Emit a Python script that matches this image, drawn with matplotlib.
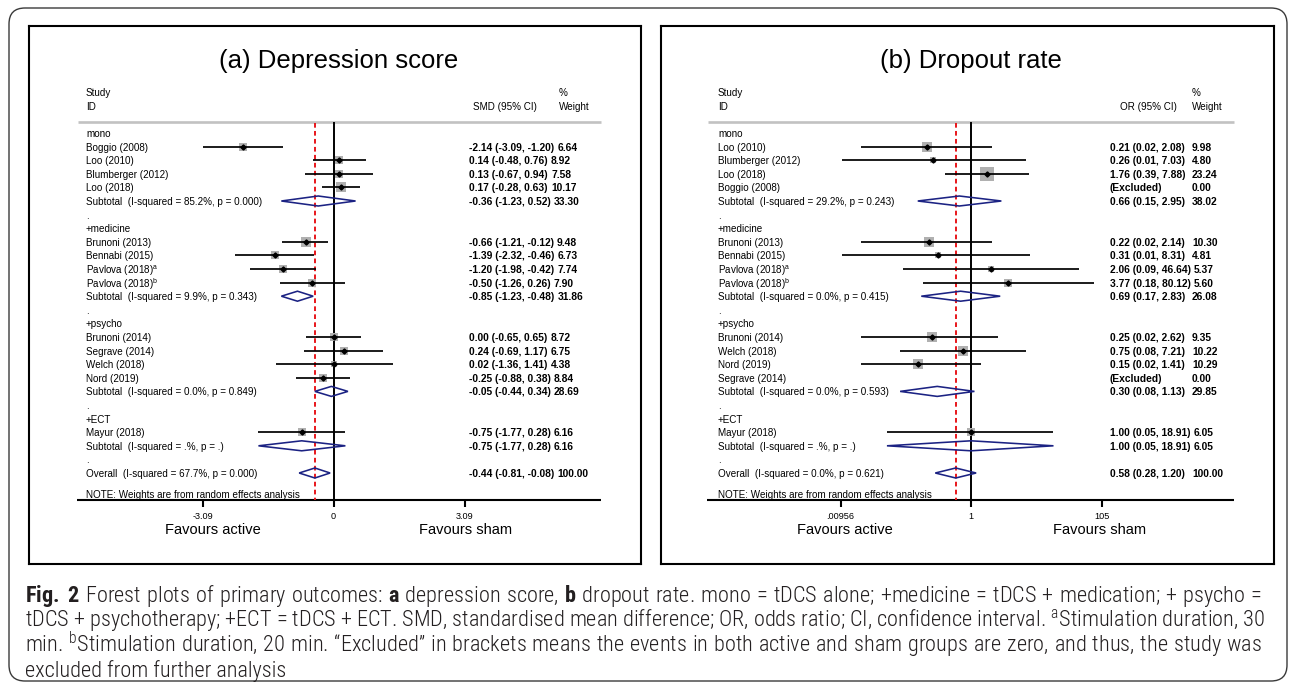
import matplotlib
matplotlib.use("Agg")
import matplotlib.pyplot as plt
from matplotlib import font_manager, transforms
from matplotlib.patches import FancyBboxPatch, Polygon
from matplotlib.ticker import NullLocator

# ---------------- data: (a) Depression score (SMD) ----------------
a_labels = ["mono", "Boggio (2008)", "Loo (2010)", "Blumberger (2012)", "Loo (2018)",
            "Subtotal  (I-squared = 85.2%, p = 0.000)", ".",
            "+medicine", "Brunoni (2013)", "Bennabi (2015)",
            "Pavlova (2018)$^{\\mathregular{a}}$", "Pavlova (2018)$^{\\mathregular{b}}$",
            "Subtotal  (I-squared = 9.9%, p = 0.343)", ".",
            "+psycho", "Brunoni (2014)", "Segrave (2014)", "Welch (2018)", "Nord (2019)",
            "Subtotal  (I-squared = 0.0%, p = 0.849)", ".",
            "+ECT", "Mayur (2018)", "Subtotal  (I-squared = .%, p = .)", ".",
            "Overall  (I-squared = 67.7%, p = 0.000)"]
a_kind = "hsssstbhsssstbhsssstbhstbo"
a_est = [None, -2.14, 0.14, 0.13, 0.17, -0.36, None, None, -0.66, -1.39, -1.20, -0.50, -0.85,
         None, None, 0.00, 0.24, 0.02, -0.25, -0.05, None, None, -0.75, -0.75, None, -0.44]
a_lo = [None, -3.09, -0.48, -0.67, -0.28, -1.23, None, None, -1.21, -2.32, -1.98, -1.26, -1.23,
        None, None, -0.65, -0.69, -1.36, -0.88, -0.44, None, None, -1.77, -1.77, None, -0.81]
a_hi = [None, -1.20, 0.76, 0.94, 0.63, 0.52, None, None, -0.12, -0.46, -0.42, 0.26, -0.48,
        None, None, 0.65, 1.17, 1.41, 0.38, 0.34, None, None, 0.28, 0.28, None, -0.08]
a_wt = [None, 6.64, 8.92, 7.58, 10.17, 33.30, None, None, 9.48, 6.73, 7.74, 7.90, 31.86,
        None, None, 8.72, 6.75, 4.38, 8.84, 28.69, None, None, 6.16, 6.16, None, 100.00]
a_ticks = [-3.09, 0, 3.09]
a_ticklabels = ["-3.09", "0", "3.09"]

# ---------------- data: (b) Dropout rate (OR) ----------------
b_labels = ["mono", "Loo (2010)", "Blumberger (2012)", "Loo (2018)", "Boggio (2008)",
            "Subtotal  (I-squared = 29.2%, p = 0.243)", ".",
            "+medicine", "Brunoni (2013)", "Bennabi (2015)",
            "Pavlova (2018)$^{\\mathregular{a}}$", "Pavlova (2018)$^{\\mathregular{b}}$",
            "Subtotal  (I-squared = 0.0%, p = 0.415)", ".",
            "+psycho", "Brunoni (2014)", "Welch (2018)", "Nord (2019)", "Segrave (2014)",
            "Subtotal  (I-squared = 0.0%, p = 0.593)", ".",
            "+ECT", "Mayur (2018)", "Subtotal  (I-squared = .%, p = .)", ".",
            "Overall  (I-squared = 0.0%, p = 0.621)"]
b_kind = "hsssxtbhsssstbhsssxtbhstbo"
b_est = [None, 0.21, 0.26, 1.76, None, 0.66, None, None, 0.22, 0.31, 2.06, 3.77, 0.69,
         None, None, 0.25, 0.75, 0.15, None, 0.30, None, None, 1.00, 1.00, None, 0.58]
b_lo = [None, 0.02, 0.01, 0.39, None, 0.15, None, None, 0.02, 0.01, 0.09, 0.18, 0.17,
        None, None, 0.02, 0.08, 0.02, None, 0.08, None, None, 0.05, 0.05, None, 0.28]
b_hi = [None, 2.08, 7.03, 7.88, None, 2.95, None, None, 2.14, 8.31, 46.64, 80.12, 2.83,
        None, None, 2.62, 7.21, 1.41, None, 1.13, None, None, 18.91, 18.91, None, 1.20]
b_wt = [None, 9.98, 4.80, 23.24, 0.00, 38.02, None, None, 10.30, 4.81, 5.37, 5.60, 26.08,
        None, None, 9.35, 10.22, 10.29, 0.00, 29.85, None, None, 6.05, 6.05, None, 100.00]
b_ticks = [0.00956, 1, 105]
b_ticklabels = [".00956", "1", "105"]

# caption lines (bold via \mathbf, superscripts via ^{}; no plain spaces inside $...$)
caption_lines = [
    r"$\mathbf{Fig.}\;\mathbf{2}$ Forest plots of primary outcomes: $\mathbf{a}$ depression score, "
    r"$\mathbf{b}$ dropout rate. mono = tDCS alone; +medicine = tDCS + medication; + psycho =",
    r"tDCS + psychotherapy; +ECT = tDCS + ECT. SMD, standardised mean difference; OR, odds ratio; "
    r"CI, confidence interval. $^{\mathregular{a}}$Stimulation duration, 30",
    "min. $^{\\mathregular{b}}$Stimulation duration, 20 min. \u201cExcluded\u201d in brackets means the "
    "events in both active and sham groups are zero, and thus, the study was",
    "excluded from further analysis",
]

# ---------------- figure ----------------
W, H, DPI = 1290, 685, 100
avail = {f.name for f in font_manager.fontManager.ttflist}
cap_family = next((f for f in ['Roboto Condensed', 'Liberation Sans Narrow', 'Open Sans Condensed',
                               'Noto Sans'] if f in avail), 'DejaVu Sans')

plt.rcParams['font.family'] = ['Liberation Sans', 'DejaVu Sans']
plt.rcParams['mathtext.fontset'] = 'custom'
plt.rcParams['mathtext.rm'] = 'Liberation Sans'
plt.rcParams['mathtext.it'] = 'Liberation Sans:italic'
plt.rcParams['mathtext.bf'] = cap_family + ':bold'

fig = plt.figure(figsize=(W / DPI, H / DPI), dpi=DPI)
fig.patch.set_facecolor('white')
bg = fig.add_axes([0, 0, 1, 1], zorder=0)
bg.set_xlim(0, W)
bg.set_ylim(H, 0)
bg.axis('off')
renderer = fig.canvas.get_renderer()

bg.add_patch(FancyBboxPatch((9, 8), 1278, 673, boxstyle="round,pad=0,rounding_size=16",
                            fill=False, ec='#3a3a3a', lw=1.0))

ROW0, ROWH = 133.0, 13.6
NAVY = '#1b2283'
SQ = '#b0b0b0'


def yrow(px):
    return (px - ROW0) / ROWH


def extent_width(txt, **kw):
    t = bg.text(0, 0, txt, **kw)
    w = t.get_window_extent(renderer).width
    t.remove()
    return w


def panel(left, right, top, bottom, zero_px, k, log):
    ax = fig.add_axes([left / W, 1 - bottom / H, (right - left) / W, (bottom - top) / H], zorder=1)
    ax.set_facecolor('none')
    if log:
        ax.set_xscale('log')
        ax.set_xlim(10 ** ((left - zero_px) / k), 10 ** ((right - zero_px) / k))
    else:
        ax.set_xlim((left - zero_px) / k, (right - zero_px) / k)
    ax.set_ylim(yrow(bottom), yrow(top))
    ax.xaxis.set_major_locator(NullLocator())
    ax.xaxis.set_minor_locator(NullLocator())
    ax.yaxis.set_major_locator(NullLocator())
    for s in ax.spines.values():
        s.set_linewidth(1.5)
        s.set_color('black')
    tr = transforms.blended_transform_factory(bg.transData, ax.transData)
    return ax, tr


def draw(ax, tr, labels, kind, est, lo, hi, wt, ref, ticks, ticklabels, lab_x, ci_x, wt_x,
         line_x0, line_x1, fav_a, fav_s, head_ci, head_ci_x, head_w_x, title, title_x):
    y_gray = yrow(122)
    y_axis = yrow(500)
    overall = est[-1]
    fs_lab, fs_val = 7.1, 7.4
    # header
    ax.text(lab_x, -3, "Study", transform=tr, fontsize=fs_lab, va='center_baseline')
    ax.text(lab_x, -2, "ID", transform=tr, fontsize=fs_lab, va='center_baseline')
    ax.text(head_ci_x, -2, head_ci, transform=tr, fontsize=fs_lab, va='center_baseline')
    ax.text(head_w_x, -3, "%", transform=tr, fontsize=fs_lab, va='center_baseline')
    ax.text(head_w_x, -2, "Weight", transform=tr, fontsize=fs_lab, va='center_baseline')
    ax.plot([line_x0, line_x1], [y_gray, y_gray], transform=tr, color='#c2c2c2', lw=1.9,
            solid_capstyle='butt', clip_on=False)
    # reference lines
    ax.plot([ref, ref], [y_gray + 0.08, y_axis], color='black', lw=1.4, zorder=3)
    ax.plot([overall, overall], [y_gray + 0.08, y_axis], color='#e8161b', lw=1.4,
            dashes=(2.4, 1.7), zorder=4)
    # rows
    for i, (lab, kd) in enumerate(zip(labels, kind)):
        ax.text(lab_x, i, lab, transform=tr, fontsize=fs_lab, va='center_baseline')
        if kd in 'hb':
            continue
        if kd == 'x':
            ci_txt = "(Excluded)"
        else:
            ci_txt = f"{est[i]:.2f} ({lo[i]:.2f}, {hi[i]:.2f})"
        t = ax.text(ci_x, i, ci_txt, transform=tr, fontsize=fs_val, fontweight='bold',
                    va='center_baseline')
        x_end = t.get_window_extent(renderer).x1
        wx = max(wt_x, x_end + 3.0)
        ax.text(wx, i, f"{wt[i]:.2f}", transform=tr, fontsize=fs_val, fontweight='bold',
                va='center_baseline')
        if kd == 's':
            side_px = 3.0 * wt[i] ** 0.5
            ax.scatter([est[i]], [i], marker='s', s=(side_px * 0.72) ** 2, color=SQ,
                       linewidths=0, zorder=5)
            ax.plot([lo[i], hi[i]], [i, i], color='black', lw=1.25, zorder=6,
                    solid_capstyle='butt')
            ax.plot([est[i]], [i], marker='D', ms=2.6, color='black', zorder=7)
        elif kd in 'to':
            h = 5.0 / ROWH
            ax.add_patch(Polygon([(lo[i], i), (est[i], i - h), (hi[i], i), (est[i], i + h)],
                                 closed=True, fill=False, ec=NAVY, lw=1.15, zorder=6))
    # note
    ax.text(lab_x, yrow(494), "NOTE: Weights are from random effects analysis", transform=tr,
            fontsize=fs_lab, va='center_baseline')
    # x axis
    ax.plot([line_x0 - 1, line_x1], [y_axis, y_axis], transform=tr, color='black', lw=1.5,
            solid_capstyle='butt', clip_on=False, zorder=3)
    for tv, tl in zip(ticks, ticklabels):
        ax.plot([tv, tv], [y_axis, yrow(507)], color='black', lw=1.5, solid_capstyle='butt')
        ax.text(tv, yrow(515.5), tl, fontsize=6.6, ha='center', va='center_baseline')
    ax.text(fav_a, yrow(529), "Favours active", transform=tr, fontsize=10.5, ha='center',
            va='center_baseline')
    ax.text(fav_s, yrow(529), "Favours sham", transform=tr, fontsize=10.5, ha='center',
            va='center_baseline')
    bg.text(title_x, 61, title, fontsize=18.5, ha='center', va='center')


axa, tra = panel(29, 641, 26, 564, 333.5, 131.0 / 3.09, False)
draw(axa, tra, a_labels, a_kind, a_est, a_lo, a_hi, a_wt, 0, a_ticks, a_ticklabels,
     lab_x=86, ci_x=469, wt_x=551, line_x0=78, line_x1=601, fav_a=213, fav_s=466,
     head_ci="SMD (95% CI)", head_ci_x=473, head_w_x=559, title="(a) Depression score",
     title_x=338.5)

axb, trb = panel(661, 1274, 26, 564, 971.0, 64.6, True)
draw(axb, trb, b_labels, b_kind, b_est, b_lo, b_hi, b_wt, 1, b_ticks, b_ticklabels,
     lab_x=718, ci_x=1110, wt_x=1192, line_x0=708, line_x1=1233.5, fav_a=844.5, fav_s=1100,
     head_ci="OR (95% CI)", head_ci_x=1120, head_w_x=1192, title="(b) Dropout rate",
     title_x=971)

# ---------------- caption: one mathtext string per line, justified ----------------
CAP_COLOR = '#231f20'
CAP_X0, CAP_X1 = 25.0, 1262.0
CAP_KW = dict(family=cap_family, fontweight='light')

ref_size = 12.0
nat = [extent_width(s, fontsize=ref_size, **CAP_KW) for s in caption_lines[:3]]
cap_size = ref_size * (CAP_X1 - CAP_X0) / max(nat)
em_px = (extent_width(r"|$\hspace{1.0}$|", fontsize=cap_size, **CAP_KW)
         - extent_width(r"|$\hspace{0.0}$|", fontsize=cap_size, **CAP_KW))

cap_y = [602, 627, 652, 677]
for li, (s, yb) in enumerate(zip(caption_lines, cap_y)):
    out = s
    n_sp = s.count(' ')
    if li < 3 and n_sp > 0 and em_px > 0:
        natural = extent_width(s, fontsize=cap_size, **CAP_KW)
        extra = max(0.0, (CAP_X1 - CAP_X0 - natural) / n_sp)
        out = s.replace(' ', ' $\\hspace{%.4f}$' % (extra / em_px))
    bg.text(CAP_X0, yb, out, fontsize=cap_size, color=CAP_COLOR, va='baseline', ha='left',
            **CAP_KW)

fig.savefig("out.png", dpi=DPI, facecolor='white')
